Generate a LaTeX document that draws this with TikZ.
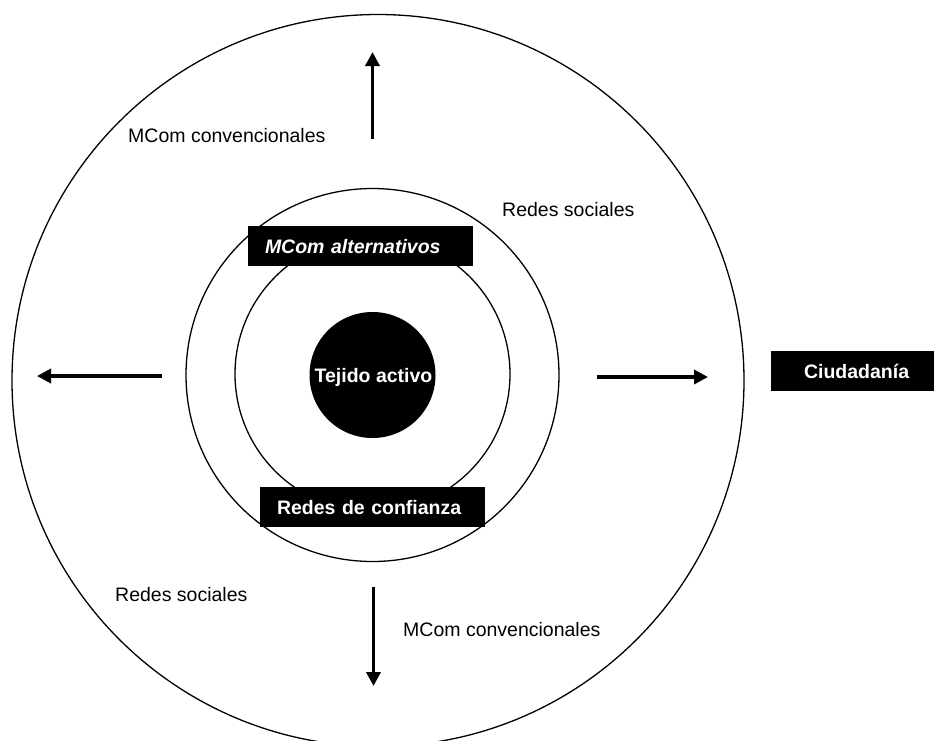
\documentclass[tikz,border=0pt]{standalone}
\usepackage{fontspec}
\setmainfont{Liberation Sans}
\usetikzlibrary{arrows.meta}
\tikzset{
  ring/.style={circle, draw=black, line width=1.3pt, inner sep=0pt},
  lbl/.style={anchor=west, inner sep=0pt, font=\fontsize{19.5}{23}\selectfont},
  blackbox/.style={fill=black, text=white, inner xsep=0pt, inner ysep=0pt, align=left,
    font=\fontsize{19.5}{23}\selectfont\bfseries, minimum height=40pt, text depth=0pt},
  bigarrow/.style={line width=3.5pt, -{Triangle[length=14pt,width=14pt]}},
}
\begin{document}
\begin{tikzpicture}[x=1pt,y=-1pt]
\useasboundingbox (0,0) rectangle (935,740);
\clip (0,0) rectangle (935,740);
% rings
\node[ring, minimum size=732pt] (outer) at (378,380.5) {};
\node[ring, minimum size=373pt] (middle) at (372.5,375) {};
\node[ring, minimum size=275pt] (inner) at (372.5,374) {};
\node[circle, fill=black, inner sep=0pt, minimum size=126pt, text=white,
  font=\fontsize{19.5}{23}\selectfont\bfseries, text depth=0pt] (core) at (372.5,375) {\hspace*{2pt}Tejido activo};
% boxes
\node[blackbox, text width=225pt] (alt) at (360.5,246) {\hspace*{17pt}\itshape MCom alternativos};
\node[blackbox, text width=225pt] (conf) at (372.5,507) {\hspace*{17pt}Redes de confianza};
\node[blackbox, text width=163pt] (ciu) at (852.5,371) {\hspace*{33pt}Ciudadanía};
% labels
\node[lbl] (mcTop) at (128,136) {MCom convencionales};
\node[lbl] (rsTop) at (502,210) {Redes sociales};
\node[lbl] (rsBot) at (115,595) {Redes sociales};
\node[lbl] (mcBot) at (403,630) {MCom convencionales};
% arrows
\coordinate (upS) at (372.5,139);
\coordinate (upE) at (372.5,52);
\coordinate (dnS) at (373.5,587);
\coordinate (dnE) at (373.5,686);
\coordinate (lfS) at (162,376);
\coordinate (lfE) at (37,376);
\coordinate (rtS) at (597,377);
\coordinate (rtE) at (708,377);
\draw[bigarrow] (upS) -- (upE);
\draw[bigarrow] (dnS) -- (dnE);
\draw[bigarrow] (lfS) -- (lfE);
\draw[bigarrow] (rtS) -- (rtE);
\end{tikzpicture}
\end{document}
